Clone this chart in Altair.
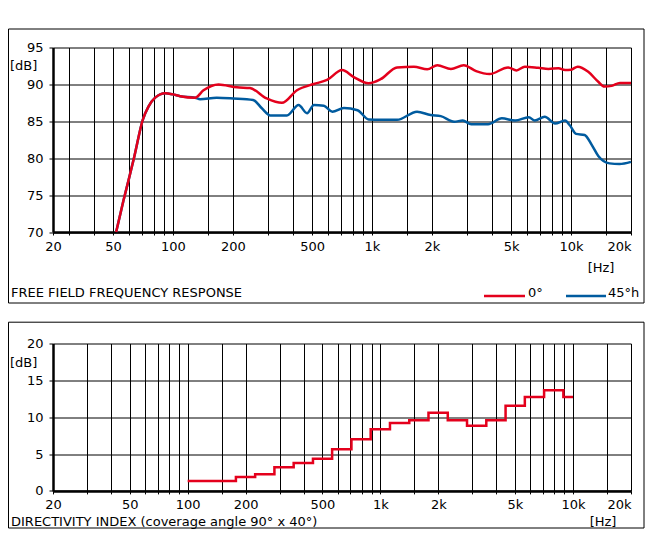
import altair as alt
import pandas as pd

FONT = "DejaVu Sans"
RED = "#e4001c"
BLUE = "#005b9f"

# ---------------- data ----------------
resp_0_freq = [51.9, 56.4, 60, 64, 70.6, 75.4, 81.5, 91.5, 100, 108.8, 129.5, 142.5, 169.6,
               209.8, 244, 296, 353, 420, 510, 595, 708, 810, 963, 1104, 1337, 1624, 1895,
               2130, 2492, 2890, 3334, 3895, 4829, 5320, 5856, 6843, 7701, 8644, 9330, 10000,
               10800, 12200, 13700, 14700, 16000, 17600, 20000]
resp_0_db = [70, 74.2, 77.1, 80.2, 85.2, 87.0, 88.2, 88.8, 88.65, 88.4, 88.2, 89.2, 90.0,
             89.6, 89.5, 88.1, 87.5, 89.2, 90.05, 90.6, 91.95, 91.0, 90.15, 90.7, 92.3, 92.4, 92.05,
             92.6, 92.1, 92.6, 91.8, 91.4, 92.3, 91.9, 92.4, 92.25, 92.1, 92.2, 91.95, 92.0,
             92.4, 91.7, 90.35, 89.7, 89.8, 90.2, 90.2]

resp_45_freq = [51.9, 56.4, 60, 64, 70.6, 75.4, 81.5, 91.5, 100, 108.8, 129.5, 137, 166, 201,
                253, 279, 309, 374, 428, 472, 511, 573, 632, 723, 846, 963, 1104, 1337, 1684,
                1970, 2216, 2589, 2856, 3150, 3830, 4490, 5240, 6130, 6570, 7380, 8310, 9330,
                9830, 10600, 11700, 12700, 13700, 15600, 17500, 20000]
resp_45_db = [70, 74.2, 77.1, 80.2, 85.2, 87.0, 88.2, 88.8, 88.65, 88.4, 88.2, 88.0, 88.2, 88.1,
              87.9, 86.8, 85.8, 85.8, 87.2, 86.1, 87.2, 87.1, 86.3, 86.8, 86.5, 85.25, 85.2, 85.2, 86.3,
              85.85, 85.7, 84.95, 85.1, 84.6, 84.6, 85.4, 85.1, 85.55, 85.1, 85.6, 84.7, 85.1,
              84.5, 83.3, 83.15, 81.8, 80.3, 79.3, 79.2, 79.5]

di_band_edges = [100, 178, 224, 282, 355, 447, 562, 708, 891, 1122, 1413, 1778, 2239, 2818,
                 3548, 4467, 5623, 7079, 8913, 10000]
di_values = [1.36, 1.9, 2.27, 3.2, 3.8, 4.35, 5.65, 7.0, 8.38, 9.2, 9.6, 10.6, 9.6, 8.83,
             9.6, 11.55, 12.75, 13.67, 12.75, 12.75]

grid_freqs_top = [25, 30, 40, 50, 60, 70, 80, 90, 100, 150, 200, 300, 400, 500, 600, 700, 800,
                  900, 1000, 1500, 2000, 3000, 4000, 5000, 6000, 7000, 8000, 9000, 10000, 15000, 20000]
grid_freqs_bottom = [20] + grid_freqs_top[1:]
freq_labels = {20: "20", 25: "20", 50: "50", 100: "100", 200: "200", 500: "500",
               1000: "1k", 2000: "2k", 5000: "5k", 10000: "10k", 20000: "20k"}
top_db_ticks = [70, 75, 80, 85, 90, 95]
bottom_db_ticks = [0, 5, 10, 15, 20]

# ---------------- helpers ----------------
def label_expr(mapping):
    expr = "''"
    for v, lab in mapping.items():
        expr = f"datum.value == {v} ? '{lab}' : {expr}"
    return expr

one = pd.DataFrame({"a": [0]})

def txt(s, x, y, align="left"):
    return alt.Chart(one).mark_text(font=FONT, fontSize=13, align=align, baseline="alphabetic",
                                    color="black").encode(
        x=alt.value(x), y=alt.value(y), text=alt.value(s))

def border(x1, x2, y1, y2):
    return alt.Chart(one).mark_rect(filled=False, stroke="black", strokeWidth=1).encode(
        x=alt.value(x1), x2=alt.value(x2), y=alt.value(y1), y2=alt.value(y2))

def leg_line(x1, x2, y, color):
    return alt.Chart(one).mark_rule(color=color, strokeWidth=2.5).encode(
        x=alt.value(x1), x2=alt.value(x2), y=alt.value(y))

def x_axis(values):
    return alt.Axis(values=values, labelExpr=label_expr(freq_labels), title=None, grid=True,
                    labelOverlap=False, labelPadding=5, tickSize=3,
                    labelAlign={"condition": {"test": "datum.value >= 20000", "value": "right"},
                                "value": "center"})

def y_axis(values):
    return alt.Axis(values=values, title=None, grid=True, labelPadding=6, tickSize=4)

W = 578
H_TOP = 184.5
H_BOT = 147.4
RIGHT = 591  # panel frame right edge (kept inside the page)

# ---------------- top panel ----------------
df0 = pd.DataFrame({"freq": resp_0_freq, "db": resp_0_db})
df45 = pd.DataFrame({"freq": resp_45_freq, "db": resp_45_db})

xs_top = alt.X("freq:Q", scale=alt.Scale(type="log", domain=[25, 20000], nice=False),
               axis=x_axis(grid_freqs_top))
ys_top = alt.Y("db:Q", scale=alt.Scale(domain=[70, 95], nice=False, zero=False),
               axis=y_axis(top_db_ticks))

blue_line = alt.Chart(df45).mark_line(color=BLUE, strokeWidth=2.5, interpolate="monotone").encode(
    x=xs_top, y=ys_top)
red_line = alt.Chart(df0).mark_line(color=RED, strokeWidth=2.5, interpolate="monotone").encode(
    x=xs_top, y=ys_top)

top = alt.layer(
    blue_line, red_line,
    border(-44.5, RIGHT, -18.5, 255.5),
    txt("[dB]", -43, 22),
    txt("[Hz]", 548, 224, align="center"),
    txt("FREE FIELD FREQUENCY RESPONSE", -42, 249),
    leg_line(431, 472, 248.5, RED),
    txt("0°", 475, 249),
    leg_line(513, 553, 248.5, BLUE),
    txt("45°h", 555, 249),
).properties(width=W, height=H_TOP)

# ---------------- bottom panel ----------------
dfdi = pd.DataFrame({"freq": di_band_edges, "di": di_values})
xs_bot = alt.X("freq:Q", scale=alt.Scale(type="log", domain=[20, 20000], nice=False),
               axis=x_axis(grid_freqs_bottom))
ys_bot = alt.Y("di:Q", scale=alt.Scale(domain=[0, 20], nice=False),
               axis=y_axis(bottom_db_ticks))

di_line = alt.Chart(dfdi).mark_line(color=RED, strokeWidth=2.5, interpolate="step-after").encode(
    x=xs_bot, y=ys_bot)

bottom = alt.layer(
    di_line,
    border(-44.5, RIGHT, -21.3, 184.5),
    txt("[Hz]", 550, 182, align="center"),
    txt("[dB]", -43, 23),
    txt("DIRECTIVITY INDEX (coverage angle 90° x 40°)", -42, 182),
).properties(width=W, height=H_BOT)

chart = alt.vconcat(top, bottom, spacing=18).properties(
    padding={"left": 0, "top": 20.5, "right": 0, "bottom": 0}
).configure_view(strokeWidth=0).configure_axis(
    gridColor="black", gridWidth=1, gridOpacity=1,
    domainColor="black", domainWidth=2.5,
    tickColor="black", tickWidth=1,
    labelFont=FONT, labelFontSize=13, labelColor="black",
)

chart.save("out.html", embed_options={"renderer": "svg", "actions": False})
